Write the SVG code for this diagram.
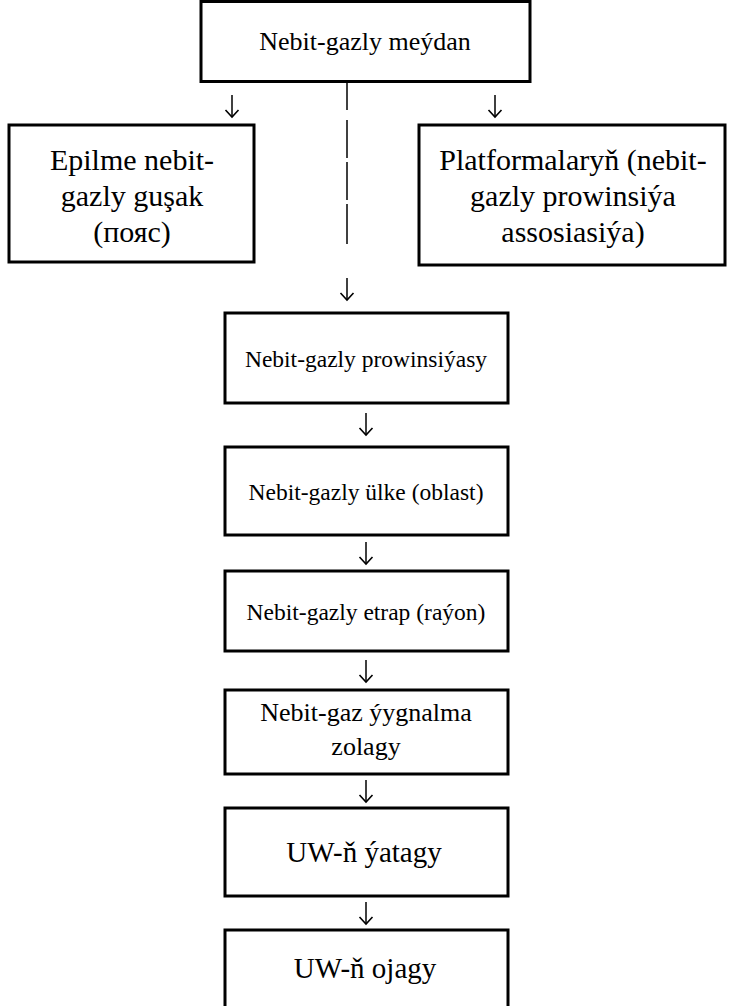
<svg xmlns="http://www.w3.org/2000/svg" width="734" height="1006" viewBox="0 0 734 1006">
<style>
.box{fill:#fff;stroke:#000;stroke-width:3}
.t{font-family:"Liberation Serif","Times New Roman",serif;font-size:26px;fill:#000;text-anchor:middle}
.s{font-size:30px}
.m{font-size:23.5px}
.u{font-size:29px}
.c{stroke:#000;stroke-width:1.5;fill:none}
</style>
<defs>
<marker id="ah" markerUnits="userSpaceOnUse" markerWidth="16" markerHeight="16" refX="0" refY="0" viewBox="-9 -8 10 16" orient="auto" overflow="visible">
<path d="M-7,-6.5 L0,0 L-7,6.5" fill="none" stroke="#000" stroke-width="1.6"/>
</marker>
</defs>
<rect width="734" height="1006" fill="#fff"/>
<g id="n-top"><rect class="box" x="201" y="1.5" width="329" height="80"/><text class="t" x="365" y="50">Nebit-gazly meýdan</text></g>
<g id="n-left"><rect class="box" x="9" y="125" width="245" height="137"/>
<text class="t s" x="132" y="170">Epilme nebit-</text><text class="t s" x="132" y="206">gazly guşak</text><text class="t s" x="132" y="242">(пояс)</text></g>
<g id="n-right"><rect class="box" x="419" y="125" width="306" height="140"/>
<text class="t s" x="573" y="170">Platformalaryň (nebit-</text><text class="t s" x="573" y="206">gazly prowinsiýa</text><text class="t s" x="573" y="242">assosiasiýa)</text></g>
<g id="n-prov"><rect class="box" x="225" y="313" width="283" height="90"/><text class="t m" x="366" y="367">Nebit-gazly prowinsiýasy</text></g>
<g id="n-ulke"><rect class="box" x="225" y="447" width="283" height="88"/><text class="t m" x="366" y="500">Nebit-gazly ülke (oblast)</text></g>
<g id="n-etrap"><rect class="box" x="225" y="571" width="283" height="80"/><text class="t m" x="366" y="620">Nebit-gazly etrap (raýon)</text></g>
<g id="n-zolak"><rect class="box" x="225" y="690" width="283" height="84"/><text class="t" x="366" y="721">Nebit-gaz ýygnalma</text><text class="t" x="366" y="755">zolagy</text></g>
<g id="n-yatak"><rect class="box" x="225" y="808" width="283" height="88"/><text class="t u" x="364" y="862">UW-ň ýatagy</text></g>
<g id="n-ojak"><rect class="box" x="225" y="930" width="283" height="80"/><text class="t u" x="365" y="978">UW-ň ojagy</text></g>
<g id="connectors">
<line class="c" x1="232" y1="95" x2="232" y2="117" marker-end="url(#ah)"/>
<line class="c" x1="495" y1="95" x2="495" y2="117" marker-end="url(#ah)"/>
<line class="c" x1="347" y1="83" x2="347" y2="110"/>
<line class="c" x1="347" y1="120" x2="347" y2="158"/>
<line class="c" x1="347" y1="162" x2="347" y2="200"/>
<line class="c" x1="347" y1="204" x2="347" y2="244"/>
<line class="c" x1="347" y1="278" x2="347" y2="300" marker-end="url(#ah)"/>
<line class="c" x1="366" y1="413" x2="366" y2="435" marker-end="url(#ah)"/>
<line class="c" x1="366" y1="542" x2="366" y2="564" marker-end="url(#ah)"/>
<line class="c" x1="366" y1="660" x2="366" y2="682" marker-end="url(#ah)"/>
<line class="c" x1="366" y1="780" x2="366" y2="802" marker-end="url(#ah)"/>
<line class="c" x1="366" y1="902" x2="366" y2="924" marker-end="url(#ah)"/>
</g>
</svg>
